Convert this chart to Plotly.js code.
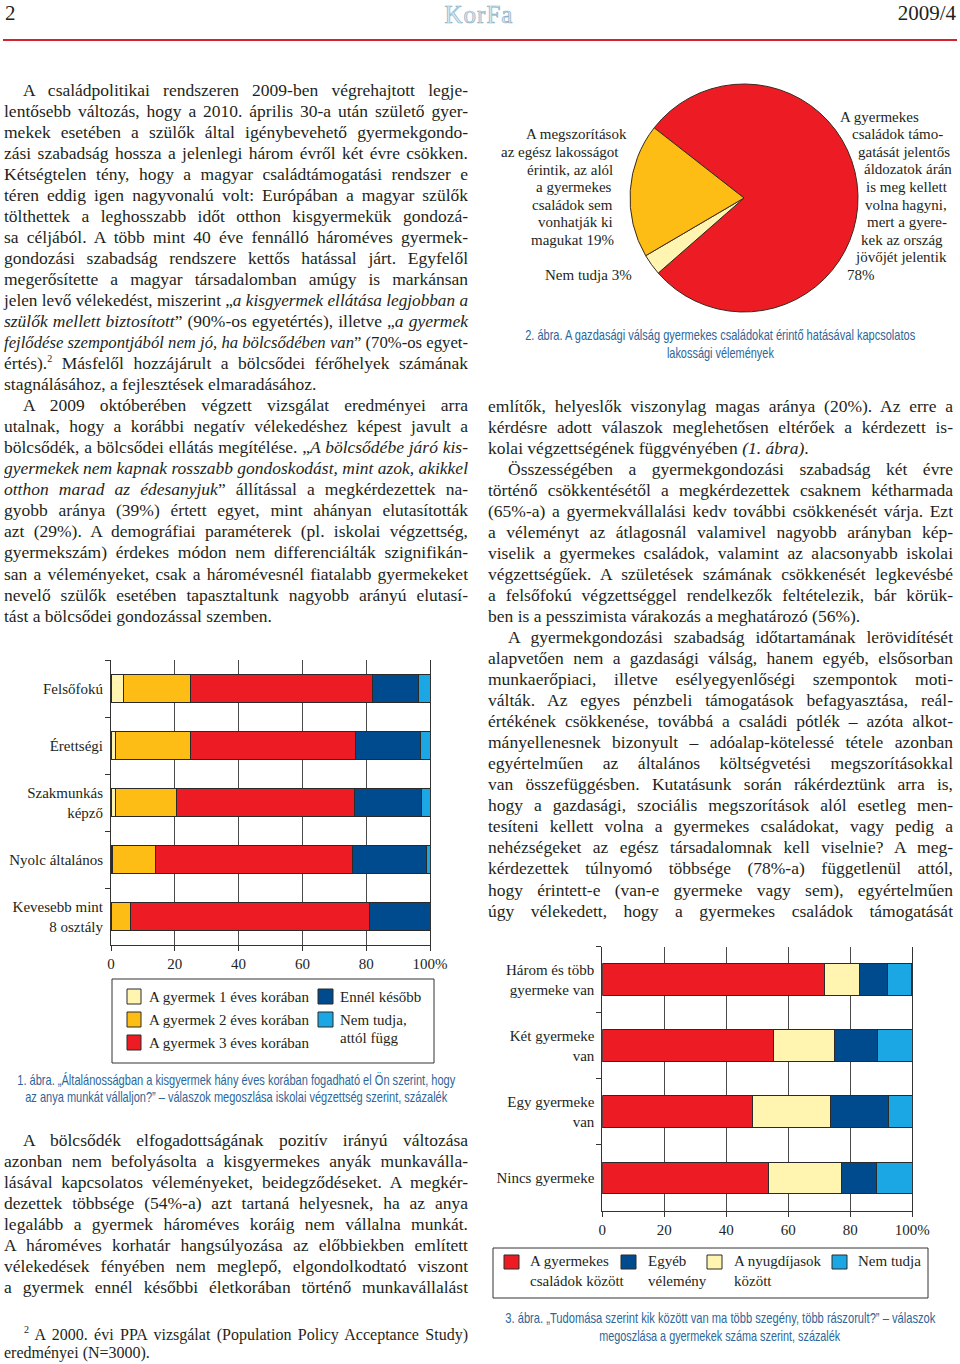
<!DOCTYPE html>
<html><head><meta charset="utf-8">
<script src="https://cdn.plot.ly/plotly-3.0.1.min.js"></script>
<style>
html,body{margin:0;padding:0;background:#fff;}
#page{position:relative;width:960px;height:1364px;overflow:hidden;background:#fff;}
#chart{position:absolute;left:0;top:0;width:960px;height:1364px;}
.ln{position:absolute;white-space:nowrap;font-family:'Liberation Serif',serif;color:#231f20;}
.ln span.in{display:inline-block;transform-origin:0 50%;white-space:nowrap;}
.ln sup{font-size:10px;line-height:0;vertical-align:7px;}
.hdr{position:absolute;font-family:'Liberation Serif',serif;color:#231f20;white-space:nowrap;}
.cap{position:absolute;white-space:nowrap;text-align:center;font-family:'Liberation Sans',Arial,sans-serif;font-size:15px;line-height:16px;color:#2d6699;}
.cap span{display:inline-block;transform-origin:50% 50%;white-space:nowrap;}
</style></head>
<body><div id="page"><div id="chart"></div></div>
<script>
// ---------- chart data ----------
const EDU_CATEGORIES = ['Felsőfokú','Érettségi','Szakmunkás<br>képző','Nyolc általános','Kevesebb mint<br>8 osztály'];
const AGE_1 = [4, 1.3, 1.3, 0.5, 0];
const AGE_2 = [21, 23.7, 19.3, 13.5, 6.2];
const AGE_3 = [57, 51.6, 55.6, 61.8, 74.9];
const LATER = [14.5, 20.4, 21.2, 23.2, 18.9];
const DEPENDS = [3.5, 3.0, 2.6, 1.0, 0];
const LEGEND1_COL1 = ['A gyermek 1 éves korában','A gyermek 2 éves korában','A gyermek 3 éves korában'];
const LEGEND1_COL2 = ['Ennél később','Nem tudja,','attól függ'];

const PIE_NAMES = ['A gyermekes családok támogatását jelentős áldozatok árán is meg kellett volna hagyni','Nem tudja','A megszorítások az egész lakosságot érintik'];
const PIE_VALUES = [78, 3, 19];
const PIE_LEFT_LINES = ['A megszorítások','az egész lakosságot','érintik, az alól','a gyermekes','családok sem','vonhatják ki','magukat 19%'];
const PIE_SMALL_LINE = 'Nem tudja 3%';
const PIE_RIGHT_LINES = ['A gyermekes','családok támo-','gatását jelentős','áldozatok árán','is meg kellett','volna hagyni,','mert a gyere-','kek az ország','jövőjét jelentik','78%'];

const KIDS_CATEGORIES = ['Három és több<br>gyermeke van','Két gyermeke<br>van','Egy gyermeke<br>van','Nincs gyermeke'];
const AMONG_FAMILIES = [71.7, 55.3, 48.5, 53.7];
const AMONG_PENSIONERS = [11.4, 19.5, 25.2, 23.5];
const OTHER_OPINION = [9.0, 13.9, 18.5, 11.1];
const DONT_KNOW = [7.8, 11.4, 7.8, 11.7];
const LEGEND3_LINES = [['A gyermekes','családok között'],['Egyéb','vélemény'],['A nyugdíjasok','között'],['Nem tudja','']];

const X_TICKVALS = [0,20,40,60,80,100];
const X_TICKTEXT = ['0','20','40','60','80','100%'];

const CAPTION1 = ['1. ábra. „Általánosságban a kisgyermek hány éves korában fogadható el Ön szerint, hogy','az anya munkát vállaljon?” – válaszok megoszlása iskolai végzettség szerint, százalék'];
const CAPTION2 = ['2. ábra. A gazdasági válság gyermekes családokat érintő hatásával kapcsolatos','lakossági vélemények'];
const CAPTION3 = ['3. ábra. „Tudomása szerint kik között van ma több szegény, több rászorult?” – válaszok','megoszlása a gyermekek száma szerint, százalék'];

// ---------- body text ----------
const LEFT_TEXT = [
 {ind:1,t:'A családpolitikai rendszeren 2009-ben végrehajtott legje-'},
 {t:'lentősebb változás, hogy a 2010. április 30-a után születő gyer-'},
 {t:'mekek esetében a szülők által igénybevehető gyermekgondo-'},
 {t:'zási szabadság hossza a jelenlegi három évről két évre csökken.'},
 {t:'Kétségtelen tény, hogy a magyar családtámogatási rendszer e'},
 {t:'téren eddig igen nagyvonalú volt: Európában a magyar szülők'},
 {t:'tölthettek a leghosszabb időt otthon kisgyermekük gondozá-'},
 {t:'sa céljából. A több mint 40 éve fennálló hároméves gyermek-'},
 {t:'gondozási szabadság rendszere kettős hatással járt. Egyfelől'},
 {t:'megerősítette a magyar társadalomban amúgy is markánsan'},
 {t:'jelen levő vélekedést, miszerint „<i>a kisgyermek ellátása legjobban a</i>'},
 {t:'<i>szülők mellett biztosított</i>” (90%-os egyetértés), illetve „<i>a gyermek</i>'},
 {t:'<i>fejlődése szempontjából nem jó, ha bölcsődében van</i>” (70%-os egyet-'},
 {t:'értés).<sup>2</sup> Másfelől hozzájárult a bölcsődei férőhelyek számának'},
 {last:1,t:'stagnálásához, a fejlesztések elmaradásához.'},
 {ind:1,t:'A 2009 októberében végzett vizsgálat eredményei arra'},
 {t:'utalnak, hogy a korábbi negatív vélekedéshez képest javult a'},
 {t:'bölcsődék, a bölcsődei ellátás megítélése. „<i>A bölcsődébe járó kis-</i>'},
 {t:'<i>gyermekek nem kapnak rosszabb gondoskodást, mint azok, akikkel</i>'},
 {t:'<i>otthon marad az édesanyjuk</i>” állítással a megkérdezettek na-'},
 {t:'gyobb aránya (39%) értett egyet, mint ahányan elutasították'},
 {t:'azt (29%). A demográfiai paraméterek (pl. iskolai végzettség,'},
 {t:'gyermekszám) érdekes módon nem differenciálták szignifikán-'},
 {t:'san a véleményeket, csak a háromévesnél fiatalabb gyermekeket'},
 {t:'nevelő szülők esetében tapasztaltunk nagyobb arányú elutasí-'},
 {last:1,t:'tást a bölcsődei gondozással szemben.'}
];
const BOTTOM_TEXT = [
 {ind:1,t:'A bölcsődék elfogadottságának pozitív irányú változása'},
 {t:'azonban nem befolyásolta a kisgyermekes anyák munkaválla-'},
 {t:'lásával kapcsolatos véleményeket, beidegződéseket. A megkér-'},
 {t:'dezettek többsége (54%-a) azt tartaná helyesnek, ha az anya'},
 {t:'legalább a gyermek hároméves koráig nem vállalna munkát.'},
 {t:'A hároméves korhatár hangsúlyozása az előbbiekben említett'},
 {t:'vélekedések fényében nem meglepő, elgondolkodtató viszont'},
 {t:'a gyermek ennél későbbi életkorában történő munkavállalást'}
];
const FOOTNOTE = [
 {ind:1,t:'<sup>2</sup> A 2000. évi PPA vizsgálat (Population Policy Acceptance Study)'},
 {last:1,t:'eredményei (N=3000).'}
];
const RIGHT_TEXT = [
 {t:'említők, helyeslők viszonylag magas aránya (20%). Az erre a'},
 {t:'kérdésre adott válaszok meglehetősen eltérőek a kérdezett is-'},
 {last:1,t:'kolai végzettségének függvényében <i>(1. ábra)</i>.'},
 {ind:1,t:'Összességében a gyermekgondozási szabadság két évre'},
 {t:'történő csökkentésétől a megkérdezettek csaknem kétharmada'},
 {t:'(65%-a) a gyermekvállalási kedv további csökkenését várja. Ezt'},
 {t:'a véleményt az átlagosnál valamivel nagyobb arányban kép-'},
 {t:'viselik a gyermekes családok, valamint az alacsonyabb iskolai'},
 {t:'végzettségűek. A születések számának csökkenését legkevésbé'},
 {t:'a felsőfokú végzettséggel rendelkezők feltételezik, bár körük-'},
 {last:1,t:'ben is a pesszimista várakozás a meghatározó (56%).'},
 {ind:1,t:'A gyermekgondozási szabadság időtartamának lerövidítését'},
 {t:'alapvetően nem a gazdasági válság, hanem egyéb, elsősorban'},
 {t:'munkaerőpiaci, illetve esélyegyenlőségi szempontok moti-'},
 {t:'válták. Az egyes pénzbeli támogatások befagyasztása, reál-'},
 {t:'értékének csökkenése, továbbá a családi pótlék – azóta alkot-'},
 {t:'mányellenesnek bizonyult – adóalap-kötelessé tétele azonban'},
 {t:'egyértelműen az általános költségvetési megszorításokkal'},
 {t:'van összefüggésben. Kutatásunk során rákérdeztünk arra is,'},
 {t:'hogy a gazdasági, szociális megszorítások alól esetleg men-'},
 {t:'tesíteni kellett volna a gyermekes családokat, vagy pedig a'},
 {t:'nehézségeket az egész társadalomnak kell viselnie? A meg-'},
 {t:'kérdezettek túlnyomó többsége (78%-a) függetlenül attól,'},
 {t:'hogy érintett-e (van-e gyermeke vagy sem), egyértelműen'},
 {t:'úgy vélekedett, hogy a gyermekes családok támogatását'}
];

// ---------- page helpers ----------
const W = 960, H = 1364;
const page = document.getElementById('page');
const X = px => px / W;
const Y = py => 1 - py / H;

function placeLines(lines, x0, width, base0, step, fs, lh, indent) {
  lines.forEach((L, i) => {
    const d = document.createElement('div');
    d.className = 'ln';
    const ind = L.ind ? indent : 0;
    const avail = width - ind;
    d.style.left = (x0 + ind) + 'px';
    d.style.width = avail + 'px';
    d.style.fontSize = fs + 'px';
    d.style.lineHeight = lh + 'px';
    const asc = fs * 0.891, desc = fs * 0.216;
    d.style.top = (base0 + i * step - ((lh - asc - desc) / 2 + asc)) + 'px';
    const s = document.createElement('span');
    s.className = 'in';
    s.innerHTML = L.t;
    d.appendChild(s);
    page.appendChild(d);
    const nat = s.getBoundingClientRect().width;
    if (nat > avail) {
      s.style.transform = 'scaleX(' + (avail / nat) + ')';
    } else if (!L.last) {
      const n = (s.textContent.match(/ /g) || []).length;
      if (n) s.style.wordSpacing = ((avail - nat) / n) + 'px';
    }
  });
}

function caption(lines, cx, y0, step, widths) {
  lines.forEach((t, i) => {
    const d = document.createElement('div');
    d.className = 'cap';
    d.style.left = (cx - 400) + 'px';
    d.style.width = '800px';
    d.style.top = (y0 + i * step - 8) + 'px';
    const s = document.createElement('span');
    s.textContent = t;
    d.appendChild(s);
    page.appendChild(d);
    const nat = s.getBoundingClientRect().width;
    s.style.transform = 'scaleX(' + (widths[i] / nat) + ')';
  });
}

function header() {
  const a = document.createElement('div'); a.className = 'hdr';
  a.style.cssText = 'left:5px;top:1px;font-size:21px;';
  a.textContent = '2'; page.appendChild(a);
  const b = document.createElement('div'); b.className = 'hdr';
  b.style.cssText = 'right:4px;top:1px;font-size:21px;';
  b.textContent = '2009/4'; page.appendChild(b);
  const c = document.createElement('div'); c.className = 'hdr';
  c.style.cssText = 'left:0;width:958px;text-align:center;top:1px;font-size:25px;line-height:27px;color:#dde9f0;-webkit-text-stroke:0.7px #8db1c6;letter-spacing:1px;';
  c.textContent = 'KorFa'; page.appendChild(c);
  const r = document.createElement('div');
  r.style.cssText = 'position:absolute;left:3px;width:954px;top:39px;height:2px;background:#d3232e;';
  page.appendChild(r);
}

// ---------- plot ----------
const COL = {ly:'#fff5b1', y:'#fdbd14', r:'#ed1c24', n:'#004a8e', lb:'#1ba6e4'};
const EDGE = {color:'#2a2a2a', width:1};
const FONT_SERIF = 'Liberation Serif, serif';

function hbar(x, y, color, xa, ya, name) {
  return {type:'bar', orientation:'h', x:x, y:y, name:name, xaxis:xa, yaxis:ya,
    marker:{color:color, line:EDGE}, showlegend:false, hoverinfo:'skip'};
}

const traces = [
  hbar(AGE_1, EDU_CATEGORIES, COL.ly, 'x', 'y', LEGEND1_COL1[0]),
  hbar(AGE_2, EDU_CATEGORIES, COL.y, 'x', 'y', LEGEND1_COL1[1]),
  hbar(AGE_3, EDU_CATEGORIES, COL.r, 'x', 'y', LEGEND1_COL1[2]),
  hbar(LATER, EDU_CATEGORIES, COL.n, 'x', 'y', LEGEND1_COL2[0]),
  hbar(DEPENDS, EDU_CATEGORIES, COL.lb, 'x', 'y', 'Nem tudja, attól függ'),
  hbar(AMONG_FAMILIES, KIDS_CATEGORIES, COL.r, 'x2', 'y2', 'A gyermekes családok között'),
  hbar(AMONG_PENSIONERS, KIDS_CATEGORIES, COL.ly, 'x2', 'y2', 'A nyugdíjasok között'),
  hbar(OTHER_OPINION, KIDS_CATEGORIES, COL.n, 'x2', 'y2', 'Egyéb vélemény'),
  hbar(DONT_KNOW, KIDS_CATEGORIES, COL.lb, 'x2', 'y2', 'Nem tudja'),
  {type:'pie', values:PIE_VALUES, labels:PIE_NAMES, sort:false, direction:'clockwise', rotation:-52,
   marker:{colors:[COL.r, COL.ly, COL.y], line:{color:'#3a2a1e', width:1}},
   textinfo:'none', hoverinfo:'skip', showlegend:false,
   domain:{x:[X(630), X(858)], y:[Y(312), Y(84)]}}
];

function xaxisDef(domain, anchor) {
  return {domain:domain, anchor:anchor, range:[0,100], tickvals:X_TICKVALS, ticktext:X_TICKTEXT,
    ticks:'outside', ticklen:5, tickcolor:'#333', tickwidth:1,
    showgrid:true, gridcolor:'#4a4a4a', gridwidth:1, zeroline:false,
    showline:true, linecolor:'#333', linewidth:1, automargin:false, fixedrange:true,
    tickfont:{family:FONT_SERIF, size:15, color:'#231f20'}};
}
function yaxisDef(domain, anchor) {
  return {domain:domain, anchor:anchor, type:'category', autorange:'reversed',
    ticks:'outside', tickson:'boundaries', ticklen:5, tickcolor:'#333', tickwidth:1,
    showgrid:false, zeroline:false, showline:true, mirror:true, linecolor:'#333', linewidth:1,
    automargin:false, fixedrange:true, ticklabelstandoff:4,
    tickfont:{family:FONT_SERIF, size:15, color:'#231f20'}};
}

const shapes = [];
const ann = [];
function txt(text, x, y, opt) {
  opt = opt || {};
  ann.push({text:text, x:X(x), y:Y(y), xref:'paper', yref:'paper', showarrow:false,
    xanchor:opt.xa || 'center', yanchor:'middle',
    font:{family:opt.family || FONT_SERIF, size:opt.size || 15, color:opt.color || '#231f20'}});
}
function rect(x0, y0, x1, y1, fill, line) {
  shapes.push({type:'rect', xref:'paper', yref:'paper', x0:X(x0), x1:X(x1), y0:Y(y1), y1:Y(y0),
    fillcolor:fill, line:line});
}

// legend 1
rect(112, 979, 434, 1063, 'rgba(0,0,0,0)', {color:'#333', width:1});
[COL.ly, COL.y, COL.r].forEach((c, i) => rect(127, 989 + i*23, 141, 1004 + i*23, c, EDGE));
LEGEND1_COL1.forEach((t, i) => txt(t, 147, 997 + i*23, {xa:'left'}));
[COL.n, COL.lb].forEach((c, i) => rect(318, 989 + i*23, 333, 1004 + i*23, c, EDGE));
txt(LEGEND1_COL2[0], 338, 997, {xa:'left'});
txt(LEGEND1_COL2[1], 338, 1020, {xa:'left'});
txt(LEGEND1_COL2[2], 338, 1038, {xa:'left'});

// legend 3
rect(493, 1248, 928, 1298, 'rgba(0,0,0,0)', {color:'#333', width:1});
const L3X = [[504, 528], [621, 646], [707, 732], [832, 856]];
[COL.r, COL.n, COL.ly, COL.lb].forEach((c, i) => {
  rect(L3X[i][0], 1255, L3X[i][0] + 15, 1269, c, EDGE);
  txt(LEGEND3_LINES[i][0], L3X[i][1], 1261, {xa:'left'});
  if (LEGEND3_LINES[i][1]) txt(LEGEND3_LINES[i][1], L3X[i][1], 1281, {xa:'left'});
});

// pie labels
const PL_X = [576, 560, 570, 574, 572, 575, 572];
const PL_Y = [134, 151.5, 169.5, 187, 205, 222.5, 240];
PIE_LEFT_LINES.forEach((t, i) => txt(t, PL_X[i], PL_Y[i]));
txt(PIE_SMALL_LINE, 588.5, 275);
const PR_X = [879.5, 897.5, 904, 907.5, 906.5, 906, 906.5, 902, 901, 860.5];
const PR_Y = [116.5, 134, 151.5, 169, 187, 205, 222.5, 240, 257, 275];
PIE_RIGHT_LINES.forEach((t, i) => txt(t, PR_X[i], PR_Y[i]));

const layout = {
  width:W, height:H, margin:{l:0, r:0, t:0, b:0, pad:0},
  paper_bgcolor:'rgba(0,0,0,0)', plot_bgcolor:'rgba(0,0,0,0)',
  barmode:'stack', bargap:0.52, showlegend:false,
  font:{family:FONT_SERIF, size:15, color:'#231f20'},
  xaxis: xaxisDef([X(111), X(430)], 'y'),
  yaxis: yaxisDef([Y(945), Y(660)], 'x'),
  xaxis2: xaxisDef([X(602.3), X(912.3)], 'y2'),
  yaxis2: yaxisDef([Y(1211), Y(946.5)], 'x2'),
  shapes:shapes, annotations:ann
};

header();
placeLines(LEFT_TEXT, 4, 464, 96, 21.04, 17.5, 21, 19);
placeLines(RIGHT_TEXT, 488, 465, 412, 21.04, 17.5, 21, 20);
placeLines(BOTTOM_TEXT, 4, 464, 1146, 21.04, 17.5, 21, 19);
placeLines(FOOTNOTE, 4, 464, 1340, 18, 16, 18, 20);
caption(CAPTION1, 236, 1080, 17, [438, 422]);
caption(CAPTION2, 720, 335, 18, [390, 107]);
caption(CAPTION3, 720, 1318, 18, [430, 241]);

Plotly.newPlot('chart', traces, layout, {staticPlot:true, displayModeBar:false});
</script></body></html>
